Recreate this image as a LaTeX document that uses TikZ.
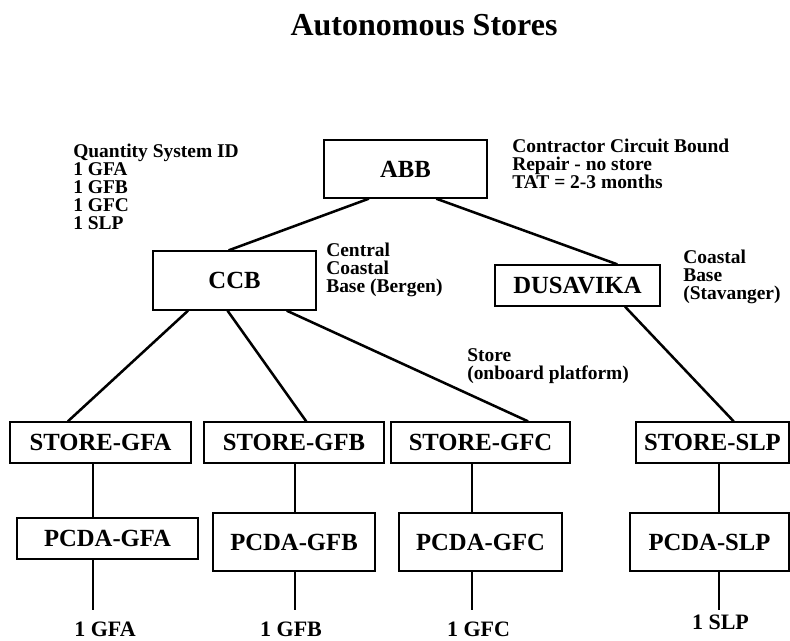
\documentclass[tikz,border=0pt]{standalone}
\usepackage{fontspec}
\setmainfont{Liberation Serif}
\usepackage{tikz}
\tikzset{
  unit/.style={rectangle, draw=black, line width=1pt, inner sep=0pt,
               font=\fontsize{18.5}{20}\selectfont\bfseries},
  note/.style={anchor=north west, inner sep=0pt, align=left,
               font=\fontsize{14.6}{13.5}\selectfont\bfseries},
  countlbl/.style={anchor=north, inner xsep=0pt, font=\fontsize{16.5}{18}\selectfont\bfseries},
  link/.style={draw=black, line width=1.9pt}
}

\begin{document}
\begin{tikzpicture}[x=0.75pt, y=-0.75pt]
  \useasboundingbox (0,0) rectangle (790,640);
  \node[font=\fontsize{24}{28}\selectfont\bfseries, anchor=base] (title) at (424,35) {Autonomous Stores};

  % repair shop and bases
  \node[unit, minimum width=122.25pt, minimum height=43.5pt] (abb) at (405.5,169) {ABB};
  \node[unit, minimum width=122.25pt, minimum height=44.25pt] (ccb) at (234.5,280.5) {CCB};
  \node[unit, minimum width=123.75pt, minimum height=30.75pt] (dus) at (577.5,285.5) {DUSAVIKA};
  \draw[link] (abb.219) -- (ccb.101);
  \draw[link] (abb.316) -- (dus.28);

  \node[note] (qtynote) at (73,144) {Quantity System ID\\1 GFA\\1 GFB\\1 GFC\\1 SLP};
  \node[note] (abbnote) at (512,139) {Contractor Circuit Bound\\Repair - no store\\TAT = 2-3 months};
  \node[note] (ccbnote) at (326,243) {Central\\Coastal\\Base (Bergen)};
  \node[note] (dusnote) at (683,250) {Coastal\\Base\\(Stavanger)};
  \node[note] (storenote) at (467,348) {Store\\(onboard platform)};

  % one column per system: store, pcda, quantity
  \foreach \n/\u/\sx/\sw/\px/\py/\pw/\ph/\lx/\tx/\ly in {
      gfa/GFA/100.5/135.75/107.5/538.5/135.75/30.75/93/105/9,
      gfb/GFB/294/135/294/542/121.5/43.5/295/291/9,
      gfc/GFC/480.5/134.25/480.5/542/122.25/43.5/472/478.5/9,
      slp/SLP/712.5/114.75/709.5/542/119.25/43.5/719/720.5/3.75}
  {
    \node[unit, minimum width=\sw pt, minimum height=30.75pt] (st\n) at (\sx,442.5) {STORE-\u};
    \node[unit, minimum width=\pw pt, minimum height=\ph pt] (pc\n) at (\px,\py) {PCDA-\u};
    \node[countlbl, inner ysep=\ly pt] (lb\n) at (\tx,610) {1 \u};
    \coordinate (x\n) at (\lx,0);
    \draw[link] (st\n.south -| x\n) -- (pc\n.north -| x\n);
    \draw[link] (pc\n.south -| x\n) -- (lb\n.north -| x\n);
  }

  \draw[link] (ccb.213.5) -- (stgfa.147);
  \draw[link] (ccb.257.6) -- (stgfb.60);
  \draw[link] (ccb.330) -- (stgfc.24);
  \draw[link] (dus.336) -- (stslp.45);
\end{tikzpicture}
\end{document}
